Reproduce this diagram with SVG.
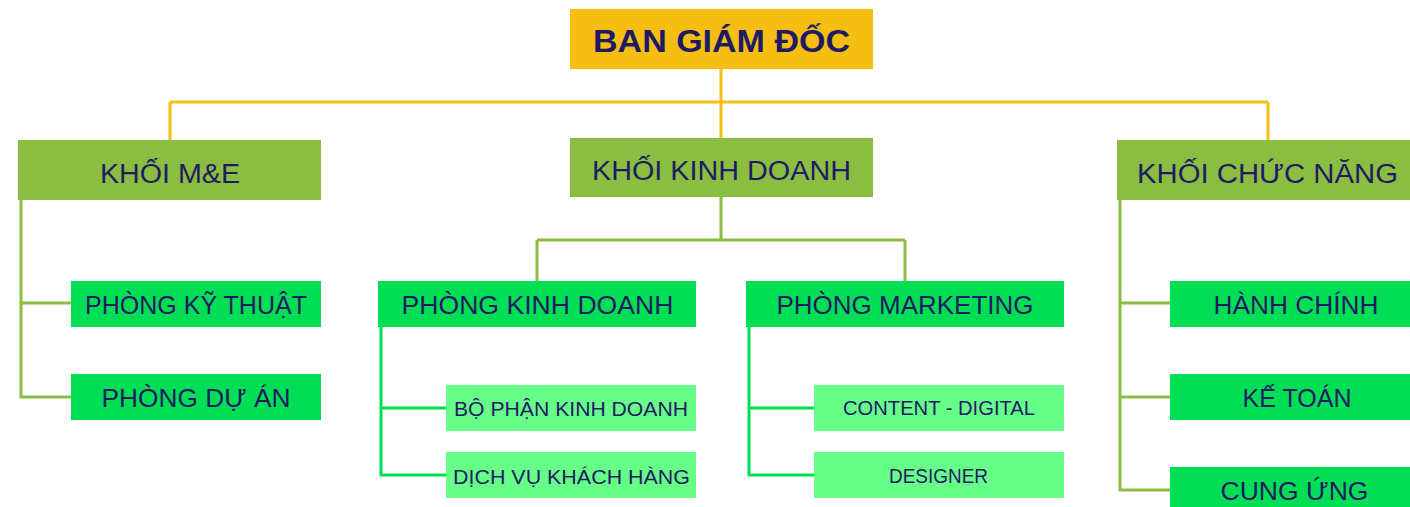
<svg xmlns="http://www.w3.org/2000/svg" width="1410" height="507" viewBox="0 0 1410 507">
<style>
text{font-family:"Liberation Sans","DejaVu Sans",sans-serif;fill:#1F1B63;text-anchor:middle;}
.t0{font-size:31px;font-weight:bold;}
.t1{font-size:27px;}
.t2{font-size:26px;}
.t3{font-size:21px;}
.yel{fill:#F6BE12;}
.olv{fill:#8ABD40;}
.grn{fill:#00DE55;}
.lgr{fill:#66FF88;}
.cy{stroke:#F6BE12;stroke-width:3;fill:none;}
.co{stroke:#8ABD40;stroke-width:3;fill:none;}
.cg{stroke:#00DE55;stroke-width:3;fill:none;}
</style>
<rect width="1410" height="507" fill="#FFFFFF"/>
<g id="connectors">
<path class="cy" d="M721 69V102M170 102H1268M170 102V140M721 102V138M1268 102V140"/>
<path class="co" d="M21 200V397H71M21 303H71"/>
<path class="co" d="M721 197V240M537 240H905M537 240V281M905 240V281"/>
<path class="co" d="M1120 200V490H1170M1120 303H1170M1120 397H1170"/>
<path class="cg" d="M381 327V475H446M381 408H446"/>
<path class="cg" d="M749 327V475H814M749 408H814"/>
</g>
<g id="ban-giam-doc"><rect class="yel" x="570" y="9" width="303" height="60"/><text class="t0" x="721.5" y="52" textLength="257" lengthAdjust="spacingAndGlyphs">BAN GIÁM ĐỐC</text></g>
<g id="khoi-me"><rect class="olv" x="18" y="140" width="303" height="60"/><text class="t1" x="170" y="183" textLength="140" lengthAdjust="spacingAndGlyphs">KHỐI M&amp;E</text></g>
<g id="khoi-kinh-doanh"><rect class="olv" x="570" y="138" width="303" height="59"/><text class="t1" x="721.5" y="180" textLength="259" lengthAdjust="spacingAndGlyphs">KHỐI KINH DOANH</text></g>
<g id="khoi-chuc-nang"><rect class="olv" x="1117" y="140" width="303" height="60"/><text class="t1" x="1267.5" y="183" textLength="261" lengthAdjust="spacingAndGlyphs">KHỐI CHỨC NĂNG</text></g>
<g id="phong-ky-thuat"><rect class="grn" x="71" y="281" width="250" height="46"/><text class="t2" x="196" y="314" textLength="222" lengthAdjust="spacingAndGlyphs">PHÒNG KỸ THUẬT</text></g>
<g id="phong-du-an"><rect class="grn" x="71" y="374" width="250" height="46"/><text class="t2" x="196" y="407" textLength="189" lengthAdjust="spacingAndGlyphs">PHÒNG DỰ ÁN</text></g>
<g id="phong-kinh-doanh"><rect class="grn" x="378" y="281" width="318" height="46"/><text class="t2" x="537.5" y="314" textLength="272" lengthAdjust="spacingAndGlyphs">PHÒNG KINH DOANH</text></g>
<g id="phong-marketing"><rect class="grn" x="746" y="281" width="318" height="46"/><text class="t2" x="905" y="313.5" textLength="257" lengthAdjust="spacingAndGlyphs">PHÒNG MARKETING</text></g>
<g id="bo-phan-kinh-doanh"><rect class="lgr" x="446" y="385" width="250" height="46"/><text class="t3" x="571" y="416" textLength="234" lengthAdjust="spacingAndGlyphs">BỘ PHẬN KINH DOANH</text></g>
<g id="dich-vu-khach-hang"><rect class="lgr" x="446" y="452" width="250" height="46"/><text class="t3" x="571.5" y="483.5" textLength="237" lengthAdjust="spacingAndGlyphs">DỊCH VỤ KHÁCH HÀNG</text></g>
<g id="content-digital"><rect class="lgr" x="814" y="385" width="250" height="46"/><text class="t3" x="939" y="415" textLength="192" lengthAdjust="spacingAndGlyphs">CONTENT - DIGITAL</text></g>
<g id="designer"><rect class="lgr" x="814" y="452" width="250" height="46"/><text class="t3" x="938.5" y="482.5" textLength="99" lengthAdjust="spacingAndGlyphs">DESIGNER</text></g>
<g id="hanh-chinh"><rect class="grn" x="1170" y="281" width="250" height="46"/><text class="t2" x="1296" y="314" textLength="165" lengthAdjust="spacingAndGlyphs">HÀNH CHÍNH</text></g>
<g id="ke-toan"><rect class="grn" x="1170" y="374" width="250" height="46"/><text class="t2" x="1297" y="407" textLength="109" lengthAdjust="spacingAndGlyphs">KẾ TOÁN</text></g>
<g id="cung-ung"><rect class="grn" x="1170" y="467" width="250" height="46"/><text class="t2" x="1294.5" y="500" textLength="148" lengthAdjust="spacingAndGlyphs">CUNG ỨNG</text></g>
</svg>
